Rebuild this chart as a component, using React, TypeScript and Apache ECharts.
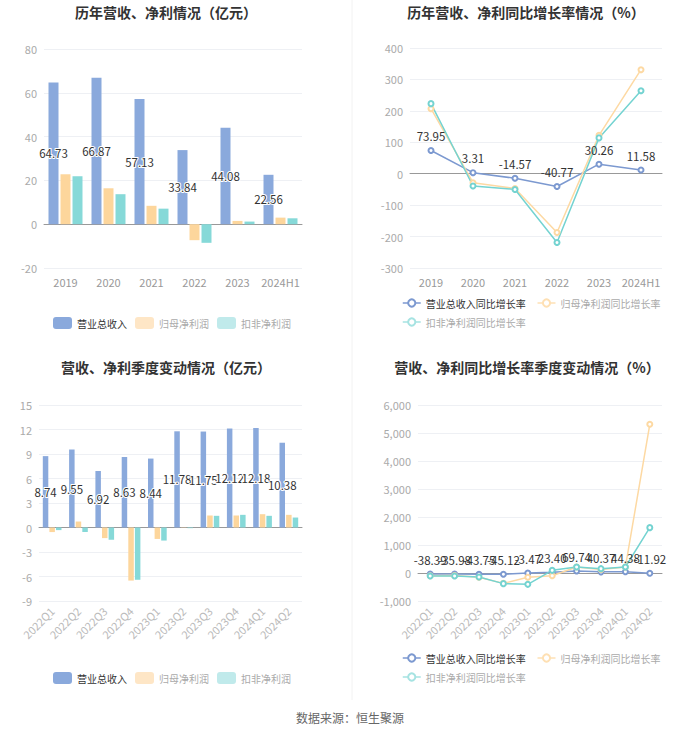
import React, { useEffect, useRef } from "react";
import * as echarts from "echarts";

const years = ["2019", "2020", "2021", "2022", "2023", "2024H1"];
const revenue = [64.73, 66.87, 57.13, 33.84, 44.08, 22.56];
const netProfit = [22.8, 16.4, 8.4, -7.3, 1.5, 3.0];
const deductedProfit = [21.9, 13.7, 7.1, -8.5, 1.2, 2.7];

const revenueGrowth = [73.95, 3.31, -14.57, -40.77, 30.26, 11.58];
const netProfitGrowth = [207, -28.6, -47, -187, 122, 331];
const deductedGrowth = [223, -39, -50, -219, 114, 264];

const quarters = ["2022Q1", "2022Q2", "2022Q3", "2022Q4", "2023Q1", "2023Q2", "2023Q3", "2023Q4", "2024Q1", "2024Q2"];
const qRevenue = [8.74, 9.55, 6.92, 8.63, 8.44, 11.78, 11.75, 12.12, 12.18, 10.38];
const qNetProfit = [-0.56, 0.73, -1.3, -6.5, -1.4, 0.03, 1.47, 1.47, 1.63, 1.55];
const qDeducted = [-0.32, -0.55, -1.5, -6.4, -1.6, -0.08, 1.43, 1.55, 1.43, 1.22];

const qRevenueGrowth = [-38.39, -35.98, -43.75, -45.12, -3.47, 23.4, 69.74, 40.37, 44.38, -11.92];
const qNetGrowth = [-100, -90, -150, -370, -150, -96, 213, 123, 216, 5310];
const qDeductedGrowth = [-107, -107, -143, -380, -405, 95, 214, 155, 214, 1620];

const barNames = ["营业总收入", "归母净利润", "扣非净利润"];
const lineNames = ["营业总收入同比增长率", "归母净利润同比增长率", "扣非净利润同比增长率"];

const BLUE = "#8aa9dc";
const ORANGE = "#fdd69c";
const TEAL = "#86d9d8";
const LBLUE = "#7c99d0";
const LORANGE = "#fdd9a3";
const LTEAL = "#74d3d1";
const FONT = "Noto Sans CJK SC";

const fmt2 = (p: any) => Number(p.value).toFixed(2);

function xAxes(gridIndex: number, data: string[], rotate: number, color: string) {
  return [
    {
      type: "category",
      gridIndex,
      data,
      axisLine: { onZero: true, lineStyle: { color: "#999" } },
      axisTick: { alignWithLabel: true, interval: 0, length: 4, lineStyle: { color: "#999" } },
      axisLabel: { show: false },
    },
    {
      type: "category",
      gridIndex,
      data,
      position: "bottom",
      axisLine: { show: false, onZero: false },
      axisTick: { show: false },
      axisLabel: { color, fontSize: 11, rotate, margin: 8, interval: 0, fontFamily: FONT },
    },
  ];
}

function yAxis(gridIndex: number, min: number, max: number, interval: number, thousands = false) {
  return {
    type: "value",
    gridIndex,
    min,
    max,
    interval,
    axisLine: { show: false },
    axisTick: { show: false },
    splitLine: { lineStyle: { color: "#eef0f4" } },
    axisLabel: {
      color: "#aaa",
      fontSize: 11,
      margin: 7,
      fontFamily: FONT,
      formatter: thousands ? (v: number) => v.toLocaleString("en-US") : undefined,
    },
  };
}

function barSeries(xi: number, yi: number, data: number[][], barWidth: number) {
  const colors = [BLUE, ORANGE, TEAL];
  return data.map((d, i) => ({
    type: "bar",
    name: barNames[i],
    xAxisIndex: xi,
    yAxisIndex: yi,
    data: d,
    barWidth,
    barGap: "20%",
    itemStyle: { color: colors[i] },
    label:
      i === 0
        ? {
            show: true,
            position: "inside",
            color: "#333",
            fontSize: 11.5,
            fontFamily: FONT,
            textBorderColor: "#fff",
            textBorderWidth: 2,
            formatter: fmt2,
          }
        : { show: false },
    z: i === 0 ? 3 : 2,
  }));
}

function lineSeries(xi: number, yi: number, data: number[][]) {
  const colors = [LBLUE, LORANGE, LTEAL];
  return data.map((d, i) => ({
    type: "line",
    name: lineNames[i],
    xAxisIndex: xi,
    yAxisIndex: yi,
    data: d,
    symbol: "emptyCircle",
    symbolSize: 5,
    lineStyle: { width: 1.5, color: colors[i] },
    itemStyle: { color: colors[i] },
    label:
      i === 0
        ? { show: true, position: "top", color: "#333", fontSize: 11.5, fontFamily: FONT, formatter: fmt2 }
        : { show: false },
  }));
}

function barLegend(top: number) {
  return {
    left: 48,
    top,
    itemWidth: 19,
    itemHeight: 12,
    itemGap: 8,
    icon: "roundRect",
    textStyle: { fontSize: 10, fontFamily: FONT },
    data: [
      { name: barNames[0], itemStyle: { color: BLUE }, textStyle: { color: "#333" } },
      { name: barNames[1], itemStyle: { color: "#fee6c6" }, textStyle: { color: "#aaa" } },
      { name: barNames[2], itemStyle: { color: "#c0eaeb" }, textStyle: { color: "#aaa" } },
    ],
  };
}

function lineLegends(top: number) {
  const base = {
    left: 397,
    itemWidth: 18,
    itemHeight: 9,
    itemGap: 11,
    textStyle: { fontSize: 10, fontFamily: FONT },
  };
  const item = (name: string, color: string, text: string) => ({
    name,
    itemStyle: { color },
    lineStyle: { color, width: 1.5 },
    textStyle: { color: text },
  });
  return [
    {
      ...base,
      top,
      data: [item(lineNames[0], LBLUE, "#333"), item(lineNames[1], "#fee0b4", "#aaa")],
    },
    {
      ...base,
      top: top + 19,
      data: [item(lineNames[2], "#a6e3e2", "#aaa")],
    },
  ];
}

function titleText(x: number, y: number, text: string) {
  return {
    type: "text",
    x,
    y,
    style: {
      text,
      fill: "#333",
      font: `bold 14px "${FONT}"`,
      textAlign: "center",
      textVerticalAlign: "middle",
    },
  };
}

export default function App() {
  const ref = useRef<HTMLDivElement>(null);
  useEffect(() => {
    if (!ref.current) return;
    const chart = echarts.init(ref.current, undefined, { renderer: "svg" });
    const option: any = {
      animation: false,
      textStyle: { fontFamily: FONT },
      grid: [
        { left: 44, right: 398, top: 49, bottom: 466, outerBoundsMode: "none" },
        { left: 410, right: 38, top: 48, bottom: 466, outerBoundsMode: "none" },
        { left: 39, right: 398, top: 405, bottom: 133, outerBoundsMode: "none" },
        { left: 418, right: 38, top: 405, bottom: 133, outerBoundsMode: "none" },
      ],
      xAxis: [
        ...xAxes(0, years, 0, "#999"),
        ...xAxes(1, years, 0, "#999"),
        ...xAxes(2, quarters, 45, "#bbb"),
        ...xAxes(3, quarters, 45, "#bbb"),
      ],
      yAxis: [
        yAxis(0, -20, 80, 20),
        yAxis(1, -300, 400, 100),
        yAxis(2, -9, 15, 3),
        yAxis(3, -1000, 6000, 1000, true),
      ],
      legend: [barLegend(312), ...lineLegends(293), barLegend(667), ...lineLegends(648)],
      series: [
        ...barSeries(0, 0, [revenue, netProfit, deductedProfit], 10),
        ...lineSeries(2, 1, [revenueGrowth, netProfitGrowth, deductedGrowth]),
        ...barSeries(4, 2, [qRevenue, qNetProfit, qDeducted], 5.5),
        ...lineSeries(6, 3, [qRevenueGrowth, qNetGrowth, qDeductedGrowth]),
      ],
      graphic: [
        {
          type: "line",
          shape: { x1: 352, y1: 0, x2: 352, y2: 700 },
          style: { stroke: "#f2f2f2", lineWidth: 1 },
        },
        titleText(166, 12, "历年营收、净利情况（亿元）"),
        titleText(526, 12, "历年营收、净利同比增长率情况（%）"),
        titleText(166, 367, "营收、净利季度变动情况（亿元）"),
        titleText(527, 367, "营收、净利同比增长率季度变动情况（%）"),
        {
          type: "text",
          x: 350,
          y: 717,
          style: {
            text: "数据来源：恒生聚源",
            fill: "#666",
            font: `12px "${FONT}"`,
            textAlign: "center",
            textVerticalAlign: "middle",
          },
        },
      ],
    };
    chart.setOption(option);
    return () => chart.dispose();
  }, []);
  return (
    <div
      ref={ref}
      style={{ position: "fixed", left: 0, top: 0, width: 700, height: 734, background: "#fff" }}
    />
  );
}
